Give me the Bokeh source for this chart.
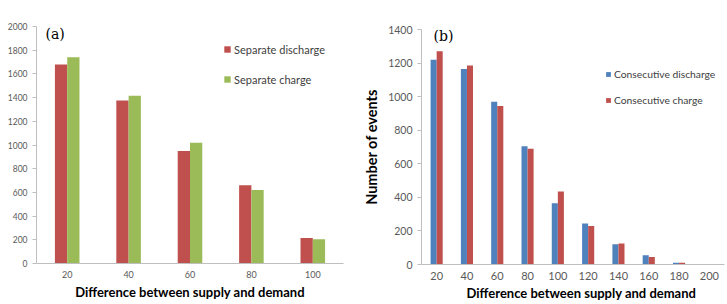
from bokeh.plotting import figure
from bokeh.layouts import row, column
from bokeh.models import Range1d, FixedTicker, Legend, LegendItem, Label, Title
from bokeh.embed import file_html
from bokeh.resources import INLINE

# (a) separate events
sep_bins = ["20", "40", "60", "80", "100"]
sep_discharge = [1680, 1375, 950, 660, 215]
sep_charge = [1740, 1415, 1020, 620, 205]

# (b) consecutive events
con_bins = ["20", "40", "60", "80", "100", "120", "140", "160", "180", "200"]
con_discharge = [1220, 1165, 970, 705, 365, 245, 120, 55, 10, 2]
con_charge = [1270, 1185, 945, 690, 435, 230, 125, 45, 10, 3]

RED = "#C0504D"
GREEN = "#9BBB59"
BLUE = "#4F81BD"
AXIS_GRAY = "#BFBFBF"
TICK_TXT = "#595959"
FONT = "Lato"
XLABEL = "Difference between supply and demand"


def style_axes(p, tick_size_x, tick_size_y):
    p.xgrid.visible = False
    p.ygrid.visible = False
    p.outline_line_color = None
    for ax in (p.xaxis[0], p.yaxis[0]):
        ax.axis_line_color = AXIS_GRAY
        ax.major_tick_line_color = AXIS_GRAY
        ax.minor_tick_line_color = None
        ax.major_label_text_color = TICK_TXT
        ax.major_label_text_font = FONT
        ax.axis_label_text_font = FONT
        ax.axis_label_text_font_style = "bold"
        ax.axis_label_text_color = "#000000"
    p.xaxis.major_tick_line_color = None
    p.xaxis.major_tick_out = 0
    p.xaxis.major_tick_in = 0
    p.xaxis.major_label_text_font_size = tick_size_x
    p.yaxis.major_label_text_font_size = tick_size_y
    p.yaxis.major_tick_out = 4
    p.yaxis.major_tick_in = 0


def panel(bins, s1, s2, c1, c2, n1, n2, ymax, width, borders, tick_x, tick_y,
          tag, tag_pos, leg_loc, leg_spacing, glyph, leg_font,
          xlabel_offset=None, ylabel=None):
    left, right, top, bottom = borders
    p = figure(width=width, height=304, output_backend="svg", toolbar_location=None,
               x_range=Range1d(0.5, len(bins) + 0.5), y_range=Range1d(0, ymax),
               min_border_left=left, min_border_right=right,
               min_border_top=top, min_border_bottom=bottom)
    xs = list(range(1, len(bins) + 1))
    r1 = p.vbar(x=[x - 0.1 for x in xs], top=s1, width=0.2, color=c1, line_color=None)
    r2 = p.vbar(x=[x + 0.1 for x in xs], top=s2, width=0.2, color=c2, line_color=None)

    p.xaxis.ticker = FixedTicker(ticks=xs)
    p.xaxis.major_label_overrides = {x: b for x, b in zip(xs, bins)}
    p.yaxis.ticker = FixedTicker(ticks=list(range(0, ymax + 1, 200)))
    style_axes(p, tick_x, tick_y)
    p.xaxis.major_label_standoff = 7
    p.yaxis.major_label_standoff = 5
    if xlabel_offset is None:
        p.xaxis.axis_label = XLABEL
        p.xaxis.axis_label_text_font_size = "13px"
        p.xaxis.axis_label_standoff = 3
    else:
        # x title set slightly right of the frame centre
        p.add_layout(Title(text=XLABEL, align="left", offset=xlabel_offset,
                           text_font=FONT, text_font_size="13px",
                           text_font_style="bold", text_color="#000000",
                           standoff=0), "below")
    if ylabel:
        p.yaxis.axis_label = ylabel
        p.yaxis.axis_label_text_font_size = "14.5px"
        p.yaxis.axis_label_standoff = 5

    p.add_layout(Label(x=tag_pos[0], y=tag_pos[1], x_units="screen", y_units="screen",
                       text=tag, text_font="DejaVu Serif", text_font_size="14px",
                       text_baseline="middle", text_color="#000000"))

    legend = Legend(items=[LegendItem(label=n1, renderers=[r1]),
                           LegendItem(label=n2, renderers=[r2])],
                    location=leg_loc, spacing=leg_spacing, padding=0, margin=0,
                    glyph_width=glyph, glyph_height=glyph, label_standoff=3,
                    label_height=20, border_line_color=None, background_fill_alpha=0,
                    label_text_font=FONT, label_text_font_size=leg_font,
                    label_text_color="#404040")
    p.add_layout(legend, "center")
    return p


pa = panel(sep_bins, sep_discharge, sep_charge, RED, GREEN,
           "Separate discharge", "Separate charge", 2000, 360, (36, 17, 26, 41),
           "9px", "8.5px", "(a)", (9, 230), (187, 174), 10, 8, "11px")
pb = panel(con_bins, con_discharge, con_charge, BLUE, RED,
           "Consecutive discharge", "Consecutive charge", 1400, 367, (53, 3, 29, 40),
           "11px", "10.5px", "(b)", (12, 229), (184, 154), 6, 6, "10.3px",
           xlabel_offset=45, ylabel="Number of events")

layout = row(column(pa), column(pb), spacing=0)
open("out.html", "w").write(file_html(layout, INLINE))
